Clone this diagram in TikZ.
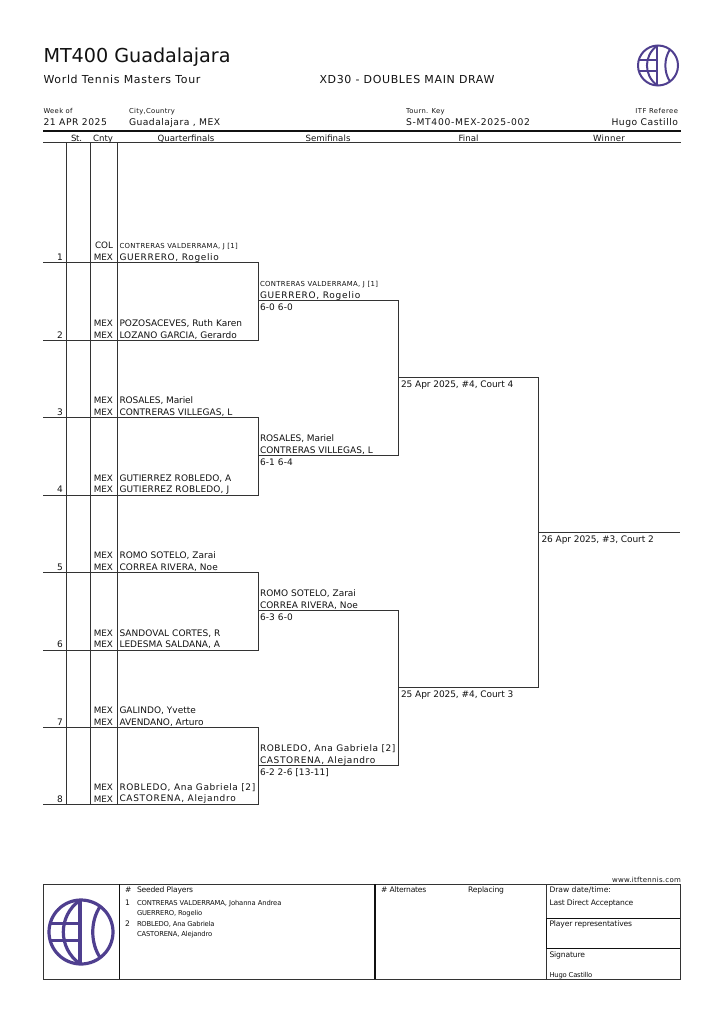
\documentclass[tikz,border=0pt]{standalone}
\usepackage{fontspec}
\usepackage{xstring}
\setmainfont{DejaVu Sans}
\noexpandarg
\definecolor{ink}{HTML}{111111}
\definecolor{wirec}{HTML}{333333}
\definecolor{logo}{HTML}{4F3F8F}
\makeatletter
\newcommand\fit[2]{\setbox0\hbox{#2}\StrLen{#2}[\fitlen]\edef\fitwd{\strip@pt\wd0}%
 \pgfmathsetmacro\fitls{100*(#1-\fitwd)/((\fitlen-1)*\f@size)}%
 \addfontfeature{LetterSpace=\fitls}#2}
\makeatother
\tikzset{x=1pt,y=-1pt,
 wire/.style={draw=wirec,line width=1pt},
 heavy/.style={draw=ink,line width=1.5pt},
 medium/.style={draw=ink,line width=1.2pt},
 txt/.style={anchor=base west,inner sep=0pt,outer sep=0pt,text=ink},
 txr/.style={anchor=base east,inner sep=0pt,outer sep=0pt,text=ink},
 txc/.style={anchor=base,inner sep=0pt,outer sep=0pt,text=ink},
 colhead/.style={txc,font=\fontsize{8.6}{10}\selectfont},
 pname/.style={txt,font=\fontsize{9}{10}\selectfont},
 sname/.style={txt,font=\fontsize{6.9}{8}\selectfont},
 small/.style={txt,font=\fontsize{6.8}{8}\selectfont},
 lab/.style={txt,font=\fontsize{7.6}{9}\selectfont},
 globew/.initial=2pt,
 globe/.pic={
  \begin{scope}[draw=logo,line width=\pgfkeysvalueof{/tikz/globew}]
   \draw (0,0) circle[radius=1];
   \draw (-0.03,-1) -- (-0.03,1);
   \draw (-0.96,-0.27) -- (-0.03,-0.27) (-0.96,0.27) -- (-0.03,0.27);
   \draw (-0.05,-0.98) .. controls (-0.72,-0.5) and (-0.72,0.5) .. (-0.05,0.98);
   \draw (0.6,-0.8) .. controls (0.29,-0.35) and (0.29,0.35) .. (0.6,0.8);
  \end{scope}}}
\begin{document}
\begin{tikzpicture}
\useasboundingbox (0,0) rectangle (724,1024);
% header
\node[txt,font=\fontsize{19.2}{20}\selectfont] (title) at (43.5,62.7) {\fit{187}{MT400 Guadalajara}};
\node[txt,font=\fontsize{11}{12}\selectfont] (tour) at (43.5,83.3) {\fit{159}{World Tennis Masters Tour}};
\node[txt,font=\fontsize{11}{12}\selectfont] (evt) at (319.5,83.3) {\fit{177.5}{XD30 - DOUBLES MAIN DRAW}};
\pic[scale=20,globew=2pt] at (658,65.5) {globe};
\node[small] (wk) at (43.5,113.3) {\fit{29.5}{Week of}};
\node[small] (cc) at (129,113.3) {\fit{46}{City,Country}};
\node[small] (tk) at (406,113.3) {\fit{39}{Tourn. Key}};
\node[txr,font=\fontsize{6.8}{8}\selectfont] (rf) at (678,113.3) {\fit{43}{ITF Referee}};
\node[txt,font=\fontsize{9.2}{10}\selectfont] (wkv) at (43.5,126) {\fit{64.5}{21 APR 2025}};
\node[txt,font=\fontsize{9.2}{10}\selectfont] (ccv) at (129,126) {\fit{92}{Guadalajara , MEX}};
\node[txt,font=\fontsize{9.2}{10}\selectfont] (tkv) at (406,126) {\fit{124}{S-MT400-MEX-2025-002}};
\node[txr,font=\fontsize{9.2}{10}\selectfont] (rfv) at (678,126) {\fit{67}{Hugo Castillo}};
\draw[heavy] (43,131) -- (681,131);
\draw[wire] (43,143) -- (681,143);
\node[colhead] at (76.5,141.3) {\fit{11}{St.}};
\node[colhead] at (103,141.3) {\fit{20}{Cnty}};
\node[colhead] at (186,141.3) {\fit{57}{Quarterfinals}};
\node[colhead] at (328,141.3) {\fit{45}{Semifinals}};
\node[colhead] at (468.5,141.3) {\fit{20}{Final}};
\node[colhead] at (609,141.3) {\fit{32}{Winner}};
% verticals
\draw[wire] (66,143) -- (66,804) (90,143) -- (90,804) (117,143) -- (117,804);
% draw lines
\draw[wire] (43,262) -- (258,262) -- (258,340) -- (43,340);
\draw[wire] (43,417) -- (258,417) -- (258,495) -- (43,495);
\draw[wire] (43,572) -- (258,572) -- (258,650) -- (43,650);
\draw[wire] (43,727) -- (258,727) -- (258,804) -- (43,804);
\draw[wire] (258,300) -- (398,300) -- (398,455) -- (258,455);
\draw[wire] (258,610) -- (398,610) -- (398,765) -- (258,765);
\draw[wire] (398,377) -- (538,377) -- (538,687) -- (398,687);
\draw[wire] (538,532) -- (680,532);
% seeds
\foreach \n/\y in {1/260,2/338,3/415,4/492,5/570,6/647,7/725,8/802}
  \node[txc,font=\fontsize{9}{10}\selectfont] at (60,\y) {\n};
% countries
\foreach \c/\y in {COL/248,MEX/260,MEX/326,MEX/338,MEX/403,MEX/415,MEX/481,MEX/492,MEX/558,MEX/570,MEX/636,MEX/647,MEX/713,MEX/725,MEX/790,MEX/802}
  \node[txr,font=\fontsize{8.8}{10}\selectfont] at (113,\y) {\c};
% players
\node[sname] at (119.5,248) {\fit{119.5}{CONTRERAS VALDERRAMA, J [1]}};
\node[pname] at (119.5,260) {\fit{100}{GUERRERO, Rogelio}};
\node[pname] at (119.5,326) {\fit{122.5}{POZOSACEVES, Ruth Karen}};
\node[pname] at (119.5,338) {\fit{117.5}{LOZANO GARCIA, Gerardo}};
\node[pname] at (119.5,403) {\fit{73.5}{ROSALES, Mariel}};
\node[pname] at (119.5,415) {\fit{113}{CONTRERAS VILLEGAS, L}};
\node[pname] at (119.5,481) {\fit{112}{GUTIERREZ ROBLEDO, A}};
\node[pname] at (119.5,492.3) {\fit{110}{GUTIERREZ ROBLEDO, J}};
\node[pname] at (119.5,558) {\fit{96.5}{ROMO SOTELO, Zarai}};
\node[pname] at (119.5,570) {\fit{98.5}{CORREA RIVERA, Noe}};
\node[pname] at (119.5,636) {\fit{101}{SANDOVAL CORTES, R}};
\node[pname] at (119.5,647.5) {\fit{100.5}{LEDESMA SALDANA, A}};
\node[pname] at (119.5,713) {\fit{76.5}{GALINDO, Yvette}};
\node[pname] at (119.5,725) {\fit{84}{AVENDANO, Arturo}};
\node[pname] at (119.5,790) {\fit{137.5}{ROBLEDO, Ana Gabriela [2]}};
\node[pname] at (119.5,801.7) {\fit{117}{CASTORENA, Alejandro}};
% semis
\node[sname] at (260,286.5) {\fit{119}{CONTRERAS VALDERRAMA, J [1]}};
\node[pname] at (260,298) {\fit{101}{GUERRERO, Rogelio}};
\node[pname] at (260,310) {\fit{33}{6-0 6-0}};
\node[pname] at (260,441.5) {\fit{74}{ROSALES, Mariel}};
\node[pname] at (260,453) {\fit{113}{CONTRERAS VILLEGAS, L}};
\node[pname] at (260,465) {\fit{33}{6-1 6-4}};
\node[pname] at (260,596.5) {\fit{96}{ROMO SOTELO, Zarai}};
\node[pname] at (260,608) {\fit{98}{CORREA RIVERA, Noe}};
\node[pname] at (260,620) {\fit{33}{6-3 6-0}};
\node[pname] at (260,751.7) {\fit{137}{ROBLEDO, Ana Gabriela [2]}};
\node[pname] at (260,763) {\fit{116}{CASTORENA, Alejandro}};
\node[pname] at (260,775) {\fit{69}{6-2 2-6 [13-11]}};
% final
\node[pname] at (401,387.3) {\fit{112}{25 Apr 2025, \#4, Court 4}};
\node[pname] at (401,697.3) {\fit{112}{25 Apr 2025, \#4, Court 3}};
\node[pname] at (541.5,542) {\fit{112}{26 Apr 2025, \#3, Court 2}};
% footer
\node[txr,font=\fontsize{7}{8}\selectfont] (www) at (681,882) {\fit{69}{www.itftennis.com}};
\draw[wire] (43.5,884) rectangle (680,979);
\draw[heavy] (119.3,884) -- (119.3,979);
\draw[heavy] (375,884) -- (375,979);
\draw[wire] (546.5,884) -- (546.5,979);
\draw[medium] (546.5,918.3) -- (680,918.3) (546.5,948.7) -- (680,948.7) (546.5,918.3) -- (546.5,948.7);
\pic[scale=32,globew=3.2pt] at (81,932) {globe};
\node[lab] at (125,892.7) {\#};
\node[lab] at (137,892.7) {\fit{56}{Seeded Players}};
\node[lab] at (125,905) {1};
\node[small] at (137,905) {\fit{144}{CONTRERAS VALDERRAMA, Johanna Andrea}};
\node[small] at (137,915) {\fit{65}{GUERRERO, Rogelio}};
\node[lab] at (125,926) {2};
\node[small] at (137,926) {\fit{77}{ROBLEDO, Ana Gabriela}};
\node[small] at (137,936) {\fit{75}{CASTORENA, Alejandro}};
\node[lab] at (381,892.7) {\fit{45}{\# Alternates}};
\node[lab] at (468,892.7) {\fit{36}{Replacing}};
\node[lab] at (549.5,892.7) {\fit{61.5}{Draw date/time:}};
\node[lab] at (549.5,905) {\fit{83.5}{Last Direct Acceptance}};
\node[lab] at (549.5,926) {\fit{82.5}{Player representatives}};
\node[lab] at (549.5,957) {\fit{35.5}{Signature}};
\node[small] at (549.5,977.3) {\fit{42.5}{Hugo Castillo}};
\end{tikzpicture}
\end{document}
